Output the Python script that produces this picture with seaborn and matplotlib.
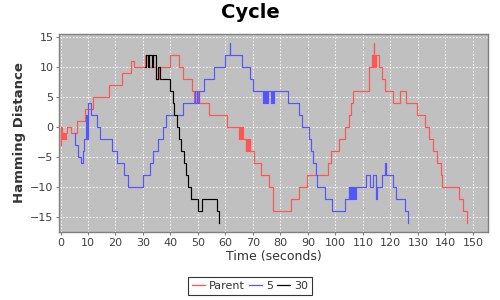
import matplotlib
matplotlib.use("Agg")
import matplotlib.pyplot as plt
import seaborn as sns
import pandas as pd
from matplotlib.lines import Line2D

# ---- data ----
series_names = ["Parent", "5", "30"]

parent_t = [0, 0.3, 0.6, 0.9, 1.2, 1.5, 1.8, 2.1, 2.3, 3.8, 5.9, 9.0, 11.8, 17.7, 22.2,
            25.6, 26.7, 30.7, 31.7, 34.8, 35.7, 39.8, 43.2, 44.7, 48.0, 48.7, 49.1, 49.5,
            49.9, 50.3, 54.1, 60.4, 65.0, 65.3, 65.6, 65.9, 66.3, 67.3, 67.6, 67.9, 68.2,
            68.5, 68.8, 69.1, 70.5, 72.9, 76.0, 77.2, 83.7, 86.8, 89.5, 97.4, 98.4, 101.4,
            103.5, 104.8, 105.5, 106.5, 112.3, 113.2, 113.6, 113.9, 114.1, 114.4, 114.7,
            115.9, 116.8, 118.0, 121.0, 123.5, 125.5, 129.5, 132.5, 134.1, 135.6, 136.8,
            138.4, 138.9, 145.0, 146.5, 148.0]
parent_v = [-3, 0, -2, -1, -2, -1, -2, -1, 0, -1, 1, 3, 5, 7, 9,
            11, 10, 12, 10, 8, 10, 12, 10, 8, 6, 4, 6, 4,
            6, 4, 2, 0, -2, 0, -2, 0, -2, -4, -2, -4, -2,
            -4, -2, -4, -6, -8, -10, -14, -12, -10, -8, -6, -4, -2,
            0, 2, 4, 6, 10, 12, 10, 14, 12, 10, 12,
            10, 8, 6, 4, 6, 4, 2, 0, -2, -4, -6,
            -8, -10, -12, -14, -16]

s5_t = [5.3, 5.4, 6.5, 7.5, 8.3, 8.7, 9.1, 9.4, 9.7, 9.9, 10.1, 11.2, 13.2, 14.4, 18.6,
        20.6, 23.1, 24.4, 30.1, 32.6, 33.8, 35.3, 37.1, 38.4, 44.7, 48.8, 49.1, 49.5,
        49.8, 50.2, 52.2, 55.8, 59.8, 61.5, 61.8, 65.9, 68.9, 70.1, 73.6, 73.9, 74.3,
        74.6, 75.0, 75.4, 76.5, 76.9, 77.2, 77.5, 82.8, 86.8, 88.0, 90.5, 91.2, 92.0,
        92.8, 93.4, 96.2, 98.6, 103.5, 104.8, 105.1, 105.4, 105.7, 106.0, 106.3, 106.6,
        107.0, 107.5, 111.1, 112.7, 113.6, 114.8, 115.1, 116.8, 118.2, 118.5, 121.0,
        122.0, 125.3, 126.5]
s5_v = [-1, -3, -5, -6, -4, -2, 0, 2, -2, 2, 4, 2, 0, -2, -4,
        -6, -8, -10, -8, -6, -4, -2, 0, 2, 4, 6, 4, 6,
        4, 6, 8, 10, 12, 14, 12, 10, 8, 6, 4, 6, 4,
        6, 4, 6, 4, 6, 4, 6, 4, 2, 0, -2, -4, -6,
        -8, -10, -12, -14, -12, -10, -12, -10, -12, -10, -12, -10,
        -12, -10, -8, -10, -8, -12, -10, -8, -6, -8, -10,
        -12, -14, -16]

s30_t = [30.7, 31.2, 31.8, 32.1, 33.4, 33.6, 34.6, 35.6, 36.2, 40.0, 40.8, 41.2, 42.2,
         43.2, 44.0, 44.8, 45.6, 46.5, 47.3, 50.1, 51.3, 56.8, 57.8]
s30_v = [10, 12, 10, 12, 10, 12, 8, 10, 8, 6, 4, 2, 0,
         -2, -4, -6, -8, -10, -12, -14, -12, -14, -16]

x_ticks = list(range(0, 151, 10))
y_ticks = [-15, -10, -5, 0, 5, 10, 15]
colors = ["#FF5555", "#5555FF", "#000000"]

df = pd.concat([
    pd.DataFrame({"t": parent_t, "v": parent_v, "series": series_names[0]}),
    pd.DataFrame({"t": s5_t, "v": s5_v, "series": series_names[1]}),
    pd.DataFrame({"t": s30_t, "v": s30_v, "series": series_names[2]}),
], ignore_index=True)

# ---- figure ----
fig = plt.figure(figsize=(5, 3), dpi=100)
fig.patch.set_facecolor("white")
ax = fig.add_axes([59 / 500, 1 - 232 / 300, (488 - 59) / 500, (232 - 34) / 300])
ax.set_facecolor("#C0C0C0")

sns.lineplot(data=df, x="t", y="v", hue="series", hue_order=series_names,
             palette=dict(zip(series_names, colors)), estimator=None, sort=False,
             drawstyle="steps-post", linewidth=0.85, legend=False, ax=ax)

ax.set_xlim(-0.55, 155.5)
ax.set_ylim(-17.57, 15.55)
ax.set_xticks(x_ticks)
ax.set_yticks(y_ticks)
ax.grid(True, color="white", linestyle=(0, (2, 2)), linewidth=0.6)
ax.set_axisbelow(True)
for sp in ax.spines.values():
    sp.set_color("#808080")
    sp.set_linewidth(1.0)
ax.tick_params(axis="both", labelsize=8, colors="#808080", labelcolor="#404040",
               length=2, width=0.8, pad=2)

ax.set_xlabel("Time (seconds)", fontsize=9, color="#333333", labelpad=2)
ax.set_ylabel("Hamming Distance", fontsize=9.5, fontweight="bold", color="#333333",
              labelpad=3)

fig.text(0.5, 0.957, "Cycle", ha="center", va="center", fontsize=14, fontweight="bold")

handles = [Line2D([0], [0], color=c, linewidth=0.9) for c in colors]
leg = fig.legend(handles, series_names, loc="center", bbox_to_anchor=(0.5, 1 - 286 / 300),
                 ncol=3, fontsize=8, frameon=True, fancybox=False, handlelength=1.2,
                 handletextpad=0.35, columnspacing=0.35, borderpad=0.35, borderaxespad=0)
leg.get_frame().set_edgecolor("black")
leg.get_frame().set_linewidth(0.8)
for txt in leg.get_texts():
    txt.set_color("#333333")

fig.savefig("out.png", dpi=100)
